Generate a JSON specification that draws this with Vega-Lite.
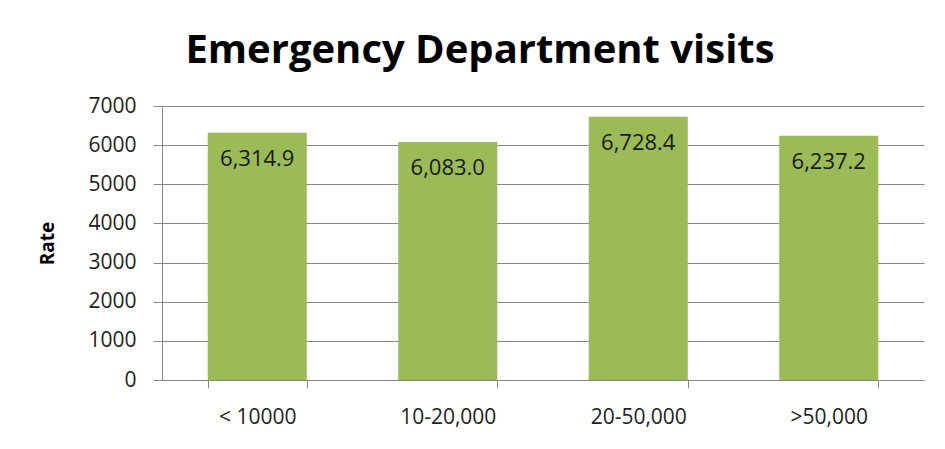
{
  "$schema": "https://vega.github.io/schema/vega-lite/v6.json",
  "width": 762,
  "height": 274,
  "autosize": {"type": "none"},
  "padding": {"left": 162, "top": 106, "right": 21, "bottom": 69},
  "background": "white",
  "title": {
    "text": "Emergency Department visits",
    "font": "Open Sans",
    "fontSize": 40,
    "fontWeight": "bold",
    "color": "#000000",
    "anchor": "middle",
    "dx": -63,
    "baseline": "alphabetic",
    "offset": -8
  },
  "data": {
    "values": [
      {"group": "< 10000", "rate": 6314.9, "label": "6,314.9"},
      {"group": "10-20,000", "rate": 6083.0, "label": "6,083.0"},
      {"group": "20-50,000", "rate": 6728.4, "label": "6,728.4"},
      {"group": ">50,000", "rate": 6237.2, "label": "6,237.2"}
    ]
  },
  "encoding": {
    "x": {
      "field": "group",
      "type": "nominal",
      "sort": null,
      "scale": {"paddingInner": 0.48, "paddingOuter": 0.24},
      "axis": {
        "title": null,
        "labelAngle": 0,
        "tickBand": "extent",
        "tickSize": 8,
        "labelPadding": 18,
        "labelFont": "Open Sans",
        "labelFontSize": 21,
        "labelColor": "#222222",
        "domainColor": "#888888",
        "tickColor": "#888888",
        "grid": false
      }
    },
    "y": {
      "field": "rate",
      "type": "quantitative",
      "scale": {"domain": [0, 7000], "nice": false},
      "axis": {
        "title": "Rate",
        "titleFont": "Open Sans",
        "titleFontSize": 19,
        "titleFontWeight": "bold",
        "titleColor": "#000000",
        "titlePadding": 30,
        "values": [0, 1000, 2000, 3000, 4000, 5000, 6000, 7000],
        "format": "d",
        "tickSize": 9,
        "labelPadding": 17,
        "labelFont": "Open Sans",
        "labelFontSize": 21,
        "labelColor": "#222222",
        "domainColor": "#888888",
        "tickColor": "#888888",
        "gridColor": "#888888",
        "gridWidth": 1
      }
    }
  },
  "layer": [
    {"mark": {"type": "bar", "color": "#9BBB59"}},
    {
      "mark": {
        "type": "text",
        "baseline": "middle",
        "align": "center",
        "dy": 26,
        "font": "Open Sans",
        "fontSize": 22,
        "color": "#1a1a1a"
      },
      "encoding": {"text": {"field": "label"}}
    }
  ],
  "config": {"view": {"stroke": null}}
}
